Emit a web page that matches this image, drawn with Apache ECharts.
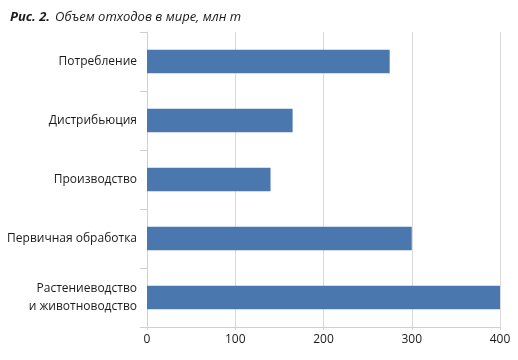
<!DOCTYPE html>
<html><head><meta charset="utf-8">
<script src="https://cdn.jsdelivr.net/npm/echarts@6/dist/echarts.min.js"></script>
<style>html,body{margin:0;padding:0;background:#fff}#c{width:518px;height:360px}</style>
</head><body><div id="c"></div>
<script>
var categories = ['Потребление', 'Дистрибьюция', 'Производство', 'Первичная обработка', 'Растениеводство\nи животноводство'];
var values = [275, 165, 140, 300, 400];
var xTicks = [0, 100, 200, 300, 400];

var chart = echarts.init(document.getElementById('c'), null, {renderer: 'canvas'});
chart.setOption({
  animation: false,
  title: {
    text: '{b|Рис. 2.} {i|Объем отходов в мире, млн т}',
    left: 5, top: 3,
    textStyle: {
      fontWeight: 'normal',
      rich: {
        b: {fontFamily: 'Open Sans', fontWeight: 'bold', fontStyle: 'italic', fontSize: 13, color: '#1a1a1a'},
        i: {fontFamily: 'Open Sans', fontWeight: 'normal', fontStyle: 'italic', fontSize: 13, color: '#1a1a1a'}
      }
    }
  },
  grid: {left: 147, right: 18, top: 32, bottom: 33, containLabel: false},
  xAxis: {
    type: 'value', min: xTicks[0], max: xTicks[xTicks.length - 1], interval: 100,
    axisLine: {show: true, lineStyle: {color: '#d0d0d0', width: 1}},
    axisTick: {show: true, length: 3, lineStyle: {color: '#d0d0d0'}},
    splitLine: {show: true, lineStyle: {color: '#d9d9d9', width: 1}},
    axisLabel: {fontFamily: 'Open Sans', fontSize: 12, color: '#1a1a1a', margin: 7}
  },
  yAxis: {
    type: 'category', data: categories, inverse: true,
    axisLine: {show: true, lineStyle: {color: '#d0d0d0', width: 1}},
    axisTick: {show: true, length: 7, lineStyle: {color: '#d0d0d0'}},
    axisLabel: {fontFamily: 'Open Sans', fontSize: 12, color: '#1a1a1a', margin: 10, align: 'right', lineHeight: 18}
  },
  series: [{
    type: 'bar', data: values, barWidth: '40%',
    itemStyle: {color: '#4a78ae'}
  }]
});
</script></body></html>
